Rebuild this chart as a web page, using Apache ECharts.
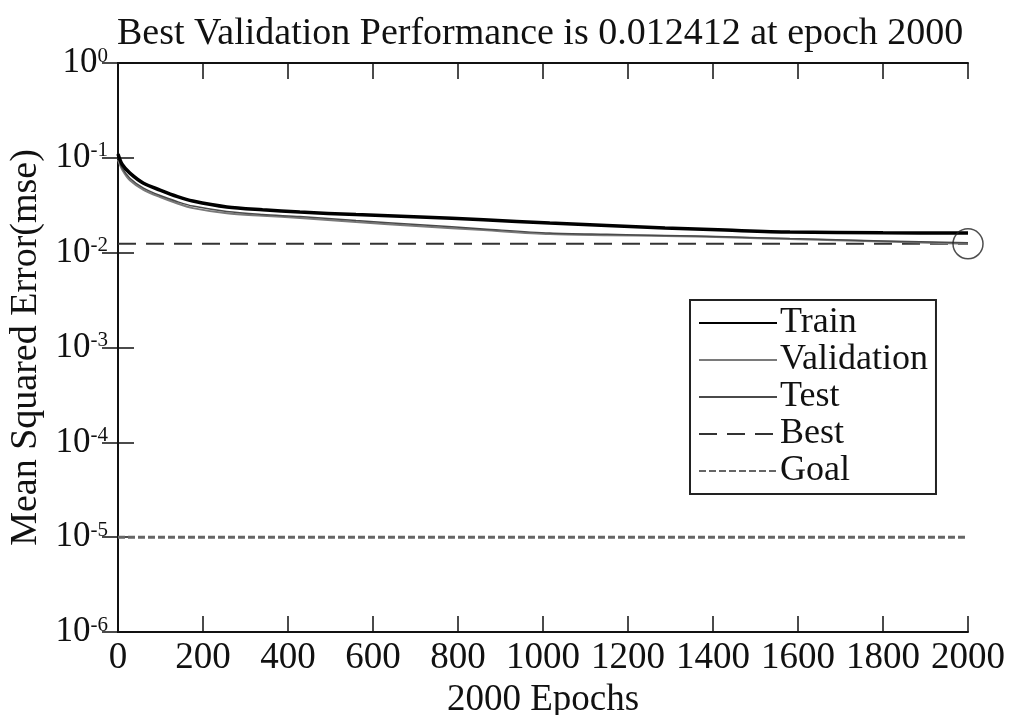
<!DOCTYPE html>
<html>
<head>
<meta charset="utf-8">
<script src="https://cdn.jsdelivr.net/npm/echarts@6/dist/echarts.min.js"></script>
<style>html,body{margin:0;padding:0;background:#fff}#c{width:1011px;height:715px}</style>
</head>
<body>
<div id="c"></div>
<script>
const epochs = [0, 10, 28, 60, 99, 140, 176, 256, 340, 428, 560, 711, 860, 1016, 1150, 1287, 1430, 1581, 1800, 2000];
const train = [0.11, 0.085, 0.069, 0.054, 0.0457, 0.039, 0.035, 0.0303, 0.0283, 0.0268, 0.0252, 0.0238, 0.0222, 0.0205, 0.0193, 0.0182, 0.0173, 0.0165, 0.0162, 0.0161];
const validation = [0.095, 0.075, 0.058, 0.046, 0.0386, 0.033, 0.0295, 0.026, 0.0245, 0.0232, 0.021, 0.019, 0.0173, 0.0157, 0.0153, 0.015, 0.0145, 0.0139, 0.0131, 0.012412];
const test = [0.1, 0.078, 0.061, 0.048, 0.040, 0.0345, 0.031, 0.0272, 0.0253, 0.0240, 0.0218, 0.0197, 0.0178, 0.0161, 0.0156, 0.0152, 0.0147, 0.0141, 0.0133, 0.0127];
const bestEpoch = 2000;
const bestValue = 0.012412;
const goalValue = 1e-5;
const titleText = 'Best Validation Performance is 0.012412 at epoch 2000';
const xName = '2000 Epochs';
const yName = 'Mean Squared Error(mse)';

const FONT = 'Liberation Serif';
const pair = (xs, ys) => xs.map((x, i) => [x, ys[i]]);

const chart = echarts.init(document.getElementById('c'), null, {renderer: 'canvas'});
const axisCommon = {
  axisLine: {show: true, lineStyle: {color: '#111', width: 2}},
  axisTick: {show: true, inside: true, length: 16, lineStyle: {color: '#111', width: 1.5}},
  splitLine: {show: false},
  minorTick: {show: false}
};
chart.setOption({
  backgroundColor: '#fff',
  animation: false,
  title: {
    text: titleText, left: 112, top: 10,
    textStyle: {fontFamily: FONT, fontSize: 38, fontWeight: 'normal', color: '#111'}
  },
  grid: {left: 118, right: 43, top: 63, bottom: 83, containLabel: false, outerBoundsMode: 'none'},
  legend: {
    data: ['Train', 'Validation', 'Test', 'Best', 'Goal'],
    orient: 'vertical', left: 690, top: 300,
    itemWidth: 78, itemHeight: 2, itemGap: 1,
    padding: [5, 8, 5, 8],
    itemStyle: {opacity: 0},
    borderColor: '#222', borderWidth: 2, backgroundColor: '#fff',
    textStyle: {fontFamily: FONT, fontSize: 36, color: '#111', padding: [0, 0, 0, -2]}
  },
  xAxis: [
    Object.assign({
      type: 'value', min: 0, max: 2000, interval: 200, position: 'bottom',
      name: xName, nameLocation: 'middle', nameGap: 35,
      nameTextStyle: {fontFamily: FONT, fontSize: 37, color: '#111'},
      axisLabel: {fontFamily: FONT, fontSize: 37, color: '#111', margin: 8, formatter: v => String(v)}
    }, axisCommon),
    Object.assign({
      type: 'value', min: 0, max: 2000, interval: 200, position: 'top',
      axisLabel: {show: false}
    }, axisCommon)
  ],
  yAxis: [
    Object.assign({
      type: 'log', logBase: 10, min: 1e-6, max: 1, position: 'left',
      name: yName, nameLocation: 'middle', nameGap: 70, nameRotate: 90,
      nameTextStyle: {fontFamily: FONT, fontSize: 38, color: '#111'},
      axisLabel: {
        margin: 10,
        formatter: v => '{b|10}{s|' + Math.round(Math.log10(v)) + '}',
        rich: {
          b: {fontFamily: FONT, fontSize: 35, color: '#111'},
          s: {fontFamily: FONT, fontSize: 21, color: '#111', verticalAlign: 'top', padding: [0, 0, 14, 0]}
        }
      }
    }, axisCommon),
    Object.assign({
      type: 'log', logBase: 10, min: 1e-6, max: 1, position: 'right',
      axisLabel: {show: false}
    }, axisCommon)
  ],
  series: [
    {name: 'Train', type: 'line', data: pair(epochs, train), symbol: 'none', smooth: 0.3, z: 5,
     lineStyle: {color: '#000', width: 3.5}, itemStyle: {color: '#000'}},
    {name: 'Validation', type: 'line', data: pair(epochs, validation), symbol: 'none', smooth: 0.3, z: 4,
     lineStyle: {color: '#7a7a7a', width: 2}, itemStyle: {color: '#7a7a7a'}},
    {name: 'Test', type: 'line', data: pair(epochs, test), symbol: 'none', smooth: 0.3, z: 4,
     lineStyle: {color: '#4a4a4a', width: 1.5}, itemStyle: {color: '#4a4a4a'}},
    {name: 'Best', type: 'line', data: [[0, bestValue], [2000, bestValue]], symbol: 'none', z: 3,
     lineStyle: {color: '#333', width: 2, type: [18, 10]}, itemStyle: {color: '#333'}},
    {name: 'Goal', type: 'line', data: [[0, goalValue], [2000, goalValue]], symbol: 'none', z: 3,
     lineStyle: {color: '#666', width: 3, type: [7, 3]}, itemStyle: {color: '#666'}},
    {name: 'bestMarker', type: 'scatter', data: [[bestEpoch, bestValue]], symbol: 'circle', symbolSize: 30,
     clip: false, z: 6, itemStyle: {color: 'rgba(0,0,0,0)', borderColor: '#222', borderWidth: 1.5}}
  ]
});
</script>
</body>
</html>
